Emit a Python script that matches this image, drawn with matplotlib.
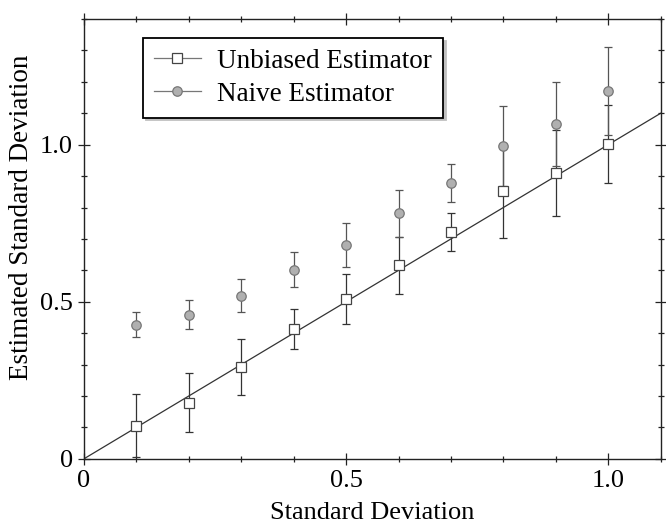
import numpy as np
import matplotlib.pyplot as plt
from matplotlib.ticker import MultipleLocator, FuncFormatter

plt.rcParams['font.family'] = ['Liberation Serif', 'DejaVu Serif']

sigma = [0.1, 0.2, 0.3, 0.4, 0.5, 0.6, 0.7, 0.8, 0.9, 1.0]
unbiased = [0.106, 0.179, 0.293, 0.413, 0.509, 0.616, 0.722, 0.852, 0.910, 1.002]
unbiased_err = [0.100, 0.095, 0.090, 0.063, 0.080, 0.090, 0.060, 0.150, 0.137, 0.125]
naive = [0.427, 0.459, 0.519, 0.602, 0.680, 0.782, 0.879, 0.996, 1.066, 1.171]
naive_err = [0.040, 0.047, 0.053, 0.055, 0.070, 0.075, 0.060, 0.128, 0.134, 0.140]

fs = 19
fig = plt.figure(figsize=(6.66, 5.28), dpi=100)
ax = fig.add_axes([0.126, 0.131, 0.866, 0.833])

ax.axline((0, 0), slope=1, color='#333333', lw=0.9, zorder=1)

ax.errorbar(sigma, unbiased, yerr=unbiased_err, fmt='s', ms=6.5, mfc='white', mec='#444444',
            mew=0.9, ecolor='#333333', elinewidth=0.9, capsize=3.2, capthick=0.9, zorder=3)
ax.errorbar(sigma, naive, yerr=naive_err, fmt='o', ms=6.8, mfc='#b0b0b0', mec='#777777',
            mew=0.9, ecolor='#555555', elinewidth=0.9, capsize=3.2, capthick=0.9, zorder=3)

# legend proxies: marker on a short grey line
h1, = ax.plot([], [], '-s', color='#777777', lw=0.9, ms=6.5, mfc='white', mec='#444444', mew=0.9)
h2, = ax.plot([], [], '-o', color='#777777', lw=0.9, ms=6.8, mfc='#b0b0b0', mec='#777777', mew=0.9)
leg = ax.legend([h1, h2], ['Unbiased Estimator', 'Naive Estimator'], loc='upper left',
                bbox_to_anchor=(0.102, 0.957), borderaxespad=0, fontsize=fs + 0.5,
                handlelength=1.75, handletextpad=0.6, borderpad=0.4, labelspacing=0.3,
                fancybox=False, shadow={'color': '#c0c0c0', 'alpha': 1.0}, framealpha=1)
leg.get_frame().set_edgecolor('black')
leg.get_frame().set_linewidth(1.3)

ax.set_xlim(0, 1.1)
ax.set_ylim(0, 1.4)
ax.xaxis.set_major_locator(MultipleLocator(0.5))
ax.xaxis.set_minor_locator(MultipleLocator(0.1))
ax.yaxis.set_major_locator(MultipleLocator(0.5))
ax.yaxis.set_minor_locator(MultipleLocator(0.1))
fmt = FuncFormatter(lambda v, pos: '0' if abs(v) < 1e-9 else f'{v:.1f}')
ax.xaxis.set_major_formatter(fmt)
ax.yaxis.set_major_formatter(fmt)

ax.tick_params(which='both', direction='inout', top=True, right=True, labelsize=fs,
               color='#222222', width=0.9)
ax.tick_params(which='major', length=9)
ax.tick_params(which='minor', length=5)
for s in ax.spines.values():
    s.set_linewidth(1.0)
    s.set_color('#222222')

ax.set_xlabel('Standard Deviation', fontsize=fs, labelpad=7)
ax.set_ylabel('Estimated Standard Deviation', fontsize=fs + 0.5, labelpad=4)
ax.yaxis.set_label_coords(-0.086, 0.548)

fig.savefig('out.png', dpi=100)
